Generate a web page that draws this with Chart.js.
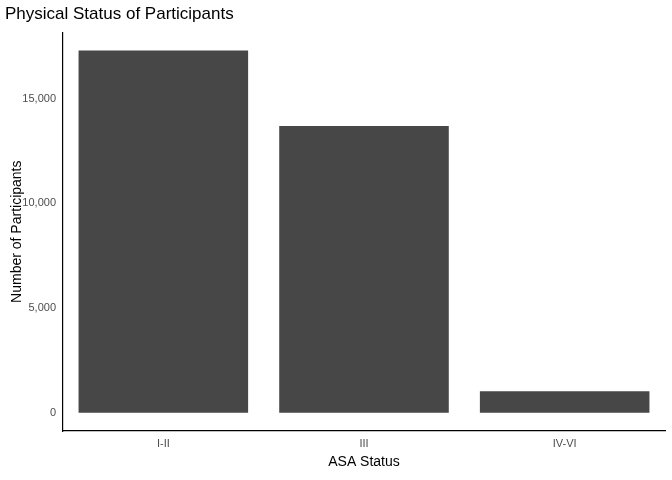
<!DOCTYPE html>
<html><head><meta charset="utf-8">
<script src="https://cdn.jsdelivr.net/npm/chart.js@4"></script>
<style>html,body{margin:0;background:#fff}#wrap{width:672px;height:480px}</style>
</head><body><div id="wrap"><canvas id="c"></canvas></div>
<script>
const categories = ['I-II', 'III', 'IV-VI'];
const counts = [17290, 13690, 1030];
const yTicks = [0, 5000, 10000, 15000];

new Chart(document.getElementById('c'), {
  type: 'bar',
  data: { labels: categories, datasets: [{ data: counts, backgroundColor: '#474747', barPercentage: 0.845, categoryPercentage: 1 }] },
  options: {
    responsive: true, maintainAspectRatio: false, animation: false,
    layout: { padding: { left: 5, right: 7, top: 4, bottom: 5 } },
    plugins: {
      legend: { display: false }, tooltip: { enabled: false },
      title: { display: true, text: 'Physical Status of Participants', align: 'start', color: '#000',
        font: { family: 'Liberation Sans', size: 17, weight: 'normal' }, padding: { top: 0, bottom: 8 } }
    },
    scales: {
      x: {
        grid: { display: false, drawTicks: true, tickLength: 4 },
        border: { color: '#000', width: 1.2 },
        ticks: { color: '#4d4d4d', font: { family: 'Liberation Sans', size: 11 }, padding: 2 },
        title: { display: true, text: 'ASA Status', color: '#000', font: { family: 'Liberation Sans', size: 14 }, padding: { top: 2 } }
      },
      y: {
        min: -865, max: 18155,
        afterBuildTicks: s => { s.ticks = yTicks.map(v => ({ value: v })); },
        afterFit: s => { s.width = 58; },
        grid: { display: false, drawTicks: true, tickLength: 4 },
        border: { color: '#000', width: 1.2 },
        ticks: { color: '#4d4d4d', font: { family: 'Liberation Sans', size: 11 }, padding: 3 },
        title: { display: true, text: 'Number of Participants', color: '#000', font: { family: 'Liberation Sans', size: 14 }, padding: { bottom: 2 } }
      }
    }
  }
});
</script></body></html>
